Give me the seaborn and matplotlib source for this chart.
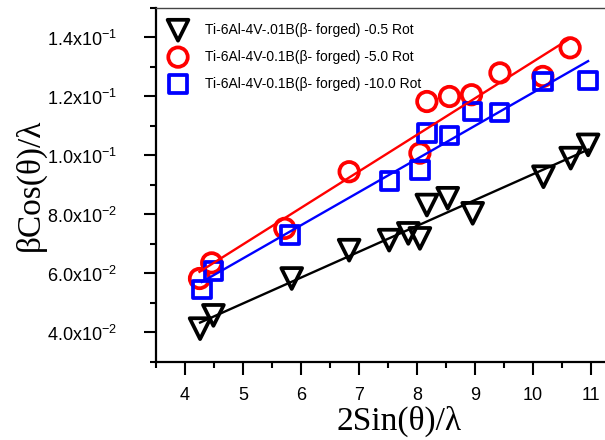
import numpy as np
import pandas as pd
import matplotlib
matplotlib.use("Agg")
import matplotlib.pyplot as plt
import seaborn as sns
from matplotlib.ticker import FixedLocator, FixedFormatter, MultipleLocator

# ---- data ----
x_black = [4.26, 4.49, 5.84, 6.83, 7.52, 7.85, 8.05, 8.17, 8.53, 8.96, 10.18, 10.65, 10.95]
y_black = [0.0413, 0.0458, 0.0583, 0.0679, 0.0713, 0.0736, 0.0719, 0.0832, 0.0855, 0.0804, 0.0928, 0.0991, 0.1036]

x_red = [4.25, 4.46, 5.72, 6.83, 8.05, 8.17, 8.56, 8.94, 9.43, 10.17, 10.64]
y_red = [0.0583, 0.0636, 0.0753, 0.0945, 0.1008, 0.1183, 0.1200, 0.1206, 0.1280, 0.1268, 0.1365]

x_blue = [4.29, 4.49, 5.81, 7.53, 8.05, 8.17, 8.56, 8.96, 9.42, 10.17, 10.95]
y_blue = [0.0545, 0.0608, 0.0730, 0.0914, 0.0951, 0.1076, 0.1067, 0.1149, 0.1146, 0.1251, 0.1255]

series_labels = [
    "Ti-6Al-4V-.01B(β- forged) -0.5 Rot",
    "Ti-6Al-4V-0.1B(β- forged) -5.0 Rot",
    "Ti-6Al-4V-0.1B(β- forged) -10.0 Rot",
]

xticks = [4, 5, 6, 7, 8, 9, 10, 11]
yticks = [0.04, 0.06, 0.08, 0.10, 0.12, 0.14]
ytick_labels = ["4.0x10$^{-2}$", "6.0x10$^{-2}$", "8.0x10$^{-2}$",
                "1.0x10$^{-1}$", "1.2x10$^{-1}$", "1.4x10$^{-1}$"]

xlabel = "2Sin(θ)/λ"
ylabel = "βCos(θ)/λ"

# ---- style ----
plt.rcParams["font.family"] = ["Liberation Sans", "DejaVu Sans"]
plt.rcParams["mathtext.fontset"] = "custom"
plt.rcParams["mathtext.rm"] = "Liberation Sans"
plt.rcParams["mathtext.it"] = "Liberation Sans:italic"
plt.rcParams["mathtext.bf"] = "Liberation Sans:bold"
plt.rcParams["mathtext.default"] = "rm"

fig = plt.figure(figsize=(6.05, 4.4), dpi=100)
ax = fig.add_axes([156 / 605, 1 - 362 / 440, 464 / 605, 354 / 440])

series = [
    (x_black, y_black, "black", "v", 15, series_labels[0]),
    (x_red, y_red, "red", "o", 14, series_labels[1]),
    (x_blue, y_blue, "blue", "s", 12.5, series_labels[2]),
]

for xs, ys, col, mk, ms, lab in series:
    df = pd.DataFrame({"x": xs, "y": ys})
    sns.scatterplot(data=df, x="x", y="y", ax=ax, marker=mk, s=ms ** 2,
                    color=col, facecolor="none", edgecolor=col,
                    linewidth=2.7, label=lab, zorder=3)

for xs, ys, col, mk, ms, lab in series:
    df = pd.DataFrame({"x": xs, "y": ys})
    sns.regplot(data=df, x="x", y="y", ax=ax, scatter=False, ci=None,
                color=col, line_kws={"linewidth": 1.7, "zorder": 4})

ax.set_xlim(3.5, 11.5)
ax.set_ylim(0.03, 0.15)
ax.xaxis.set_major_locator(FixedLocator(xticks))
ax.xaxis.set_minor_locator(MultipleLocator(0.5))
ax.yaxis.set_major_locator(FixedLocator(yticks))
ax.yaxis.set_major_formatter(FixedFormatter(ytick_labels))
ax.yaxis.set_minor_locator(MultipleLocator(0.01))

ax.tick_params(axis="both", which="major", direction="out", length=9,
               width=1.5, labelsize=13, top=False, right=False)
ax.tick_params(axis="both", which="minor", direction="out", length=4,
               width=1.5, top=False, right=False)
ax.tick_params(axis="y", which="major", pad=19)
ax.tick_params(axis="x", which="major", pad=9)

for side in ["left", "bottom"]:
    ax.spines[side].set_linewidth(1.6)
    ax.spines[side].set_color("black")
ax.spines["top"].set_linewidth(1.0)
ax.spines["top"].set_color("#444444")
ax.spines["right"].set_visible(False)

ax.set_xlabel("")
ax.set_ylabel("")
fig.text(398.5 / 605, 1 - 421 / 440, xlabel, ha="center", va="center",
         fontsize=24, family=["Liberation Serif", "DejaVu Serif"])
fig.text(30 / 605, 1 - 185 / 440, ylabel, ha="center", va="center",
         rotation=90, fontsize=24, family=["Liberation Serif", "DejaVu Serif"])

leg = ax.legend(loc="upper left", bbox_to_anchor=(0.025, 0.958),
                frameon=False, fontsize=10, handlelength=1.5,
                handletextpad=1.2, labelspacing=0.93, borderpad=0,
                borderaxespad=0)

fig.savefig("out.png", dpi=100)
